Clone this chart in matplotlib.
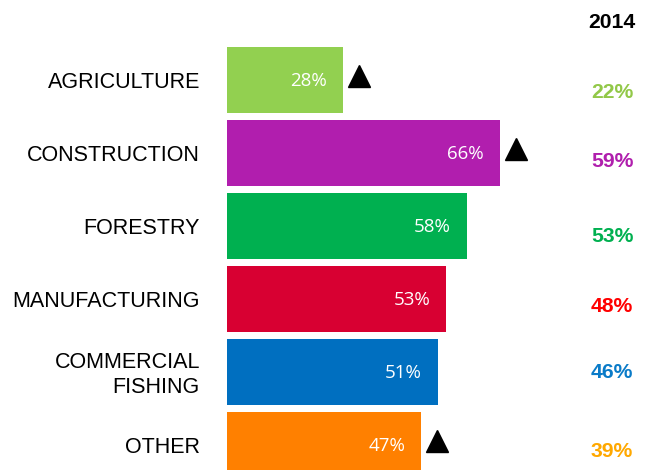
import matplotlib.pyplot as plt

# share of workers by industry, current year vs 2014
industries = ["AGRICULTURE", "CONSTRUCTION", "FORESTRY", "MANUFACTURING",
              "COMMERCIAL\nFISHING", "OTHER"]
current = [28, 66, 58, 53, 51, 47]
prior_2014 = [22, 59, 53, 48, 46, 39]
increase_flag = [True, True, False, False, False, True]

bar_colors = ["#92D050", "#B11EAE", "#00B050", "#D80032", "#006FC0", "#FF8000"]
label_colors = ["#92C848", "#B01FAD", "#00B050", "#FF0000", "#0A7BC8", "#FFA800"]

fig = plt.figure(figsize=(6.48, 4.70), dpi=100)
ax = fig.add_axes([0, 0, 1, 1])

px = 4.136  # pixels per percentage point
ax.set_xlim(-227 / px, (648 - 227) / px)
ax.set_ylim((470 - 80) / 73, -80 / 73)
ax.axis("off")

rows = list(range(len(industries)))
ax.barh(rows, current, height=0.904, color=bar_colors, left=0)

# the 2014 column sits a little off the bar centres
col_x = (612 - 227) / px
col_shift = [0.17, 0.115, 0.15, 0.10, 0.005, 0.09]

for i in rows:
    ax.text(-27 / px, i + 0.04, industries[i], ha="right", va="center",
            fontsize=15.5, family="Liberation Sans", color="black",
            linespacing=1.3)
    ax.text(current[i] - 16 / px, i + 0.02, f"{current[i]}%", ha="right",
            va="center", fontsize=13.5, family="Open Sans", color="white")
    ax.text(col_x, i + col_shift[i], f"{prior_2014[i]}%", ha="center",
            va="center", fontsize=15.2, family="Liberation Sans",
            fontweight="bold", color=label_colors[i])
    if increase_flag[i]:
        ax.plot(current[i] + 16 / px, i - 0.05, marker="^", markersize=16,
                color="black", linestyle="none")

ax.text(col_x, -0.79, "2014", ha="center", va="center",
        fontsize=15.2, family="Liberation Sans", fontweight="bold",
        color="black")

fig.savefig("out.png", dpi=100)
